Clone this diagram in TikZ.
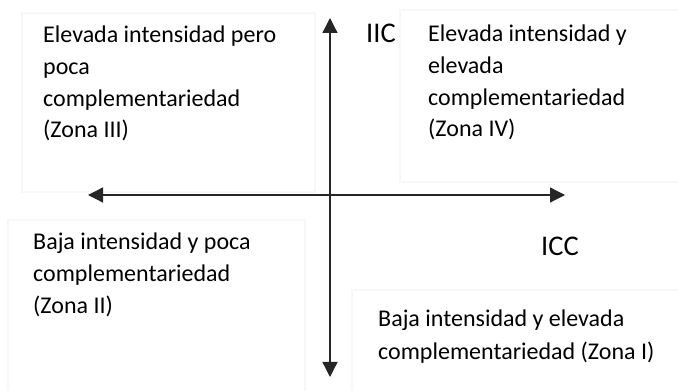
\documentclass[tikz,border=0pt]{standalone}
\usepackage{fontspec}
\setmainfont{Carlito}
\usetikzlibrary{arrows.meta}
\begin{document}
\begin{tikzpicture}[x=1pt,y=1pt,
 zonebox/.style={draw=black!3, line width=2.5pt, fill=white},
 zonetext/.style={anchor=north west, inner sep=0pt, align=left, font=\fontsize{24}{31.7}\selectfont},
 axislabel/.style={anchor=north west, inner sep=0pt, font=\fontsize{28.5}{30}\selectfont},
 axis/.style={draw=black!85, line width=1.3pt, {Triangle[length=15pt,width=15pt]}-{Triangle[length=15pt,width=15pt]}}]
\useasboundingbox (0,0) rectangle (678,391);
% faint text boxes
\fill[white] (0,0) rectangle (678,391);
\draw[zonebox] (22,378) rectangle (315,199);
\draw[zonebox] (400,381) rectangle (690,209);
\draw[zonebox] (8,171) rectangle (305,-10);
\draw[zonebox] (352,101) rectangle (690,-10);
% texts
\node[zonetext] (z3) at (43,365) {Elevada intensidad pero\\poca\\complementariedad\\(Zona III)};
\node[zonetext] (z4) at (428,366) {Elevada intensidad y\\elevada\\complementariedad\\(Zona IV)};
\node[zonetext] (z2) at (33,158) {Baja intensidad y poca\\complementariedad\\(Zona II)};
\node[zonetext, font=\fontsize{24}{33}\selectfont] (z1) at (378,81) {Baja intensidad y elevada\\complementariedad (Zona I)};
\node[axislabel] (iic) at (366,367) {IIC};
\node[axislabel] (icc) at (541,154) {ICC};
% axes
\coordinate (top) at (330,373);
\coordinate (bot) at (330,14);
\coordinate (lft) at (88,196);
\coordinate (rgt) at (565,196);
\draw[axis] (bot) -- (top);
\draw[axis] (lft) -- (rgt);
\end{tikzpicture}
\end{document}
